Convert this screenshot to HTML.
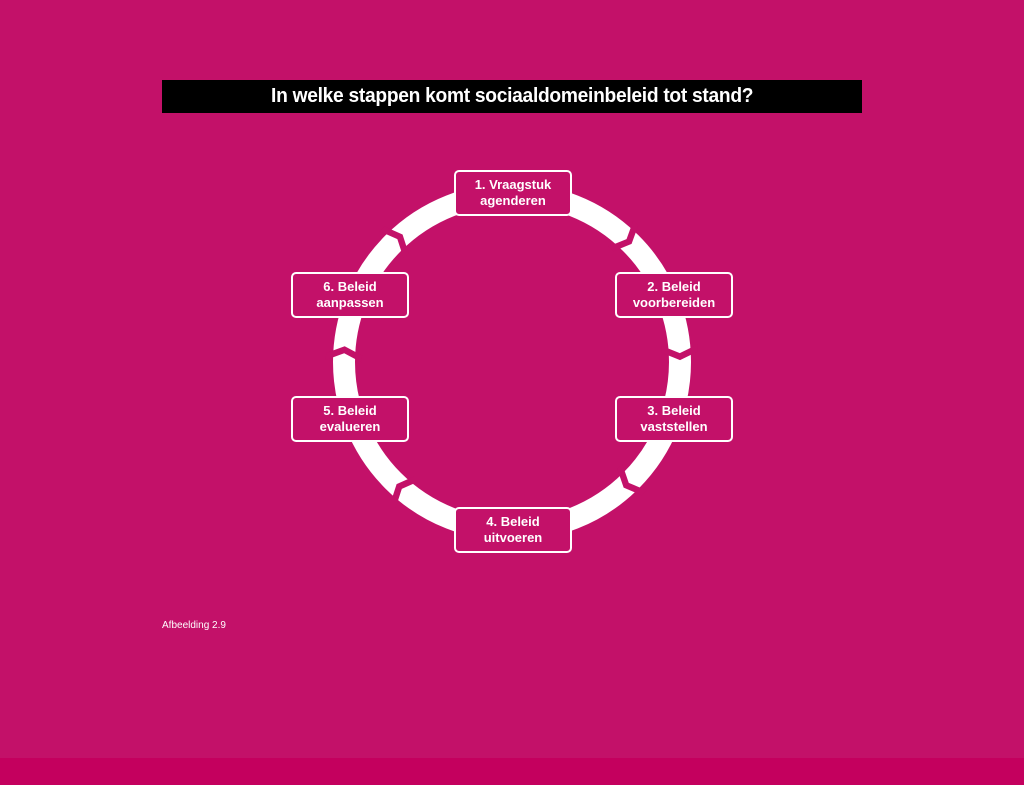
<!DOCTYPE html>
<html><head><meta charset="utf-8"><style>
body{margin:0;width:1024px;height:785px;background:#c31169;position:relative;overflow:hidden;font-family:"Liberation Sans",sans-serif}
.title{position:absolute;left:162px;top:80px;width:700px;height:33px;background:#000;color:#fff;font-weight:bold;font-size:20px;line-height:33px;text-align:center;letter-spacing:-0.3px}
.title span{display:inline-block;transform:scaleX(0.96)}
.bottom{position:absolute;left:0;top:758px;width:1024px;height:27px;background:#c4005e}
.cap{position:absolute;left:162px;top:620px;color:#fff;font-size:10px}
.box{position:absolute;width:114px;height:42px;border:2px solid #fff;border-radius:5px;background:#c31169;color:#fff;font-weight:bold;font-size:13px;line-height:16px;text-align:center;display:flex;align-items:center;justify-content:center}
</style></head><body>
<div class="title"><span>In welke stappen komt sociaaldomeinbeleid tot stand?</span></div>
<svg width="1024" height="785" style="position:absolute;left:0;top:0">
<circle cx="512" cy="362" r="168" fill="none" stroke="#fff" stroke-width="22"/>
<g fill="#c31169">
<polygon points="508,176 516,194 508,212 501,212 509,194 501,176" transform="rotate(44 512 362)"/>
<polygon points="508,176 516,194 508,212 501,212 509,194 501,176" transform="rotate(88 512 362)"/>
<polygon points="508,176 516,194 508,212 501,212 509,194 501,176" transform="rotate(137 512 362)"/>
<polygon points="508,176 516,194 508,212 501,212 509,194 501,176" transform="rotate(222 512 362)"/>
<polygon points="508,176 516,194 508,212 501,212 509,194 501,176" transform="rotate(274 512 362)"/>
<polygon points="508,176 516,194 508,212 501,212 509,194 501,176" transform="rotate(318 512 362)"/>
</g>
</svg>
<div class="box" style="left:454px;top:170px">1. Vraagstuk<br>agenderen</div>
<div class="box" style="left:615px;top:272px">2. Beleid<br>voorbereiden</div>
<div class="box" style="left:615px;top:396px">3. Beleid<br>vaststellen</div>
<div class="box" style="left:454px;top:507px">4. Beleid<br>uitvoeren</div>
<div class="box" style="left:291px;top:396px">5. Beleid<br>evalueren</div>
<div class="box" style="left:291px;top:272px">6. Beleid<br>aanpassen</div>
<div class="cap">Afbeelding 2.9</div>
<div class="bottom"></div>
</body></html>
